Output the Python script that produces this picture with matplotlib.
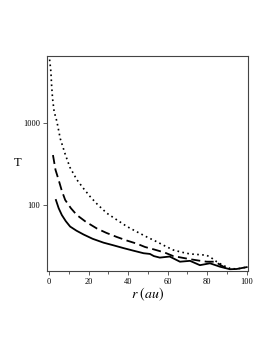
import matplotlib
matplotlib.use("Agg")
import matplotlib.pyplot as plt
from matplotlib.ticker import FixedLocator, NullLocator, FixedFormatter

plt.rcParams['font.family'] = ['Liberation Serif', 'DejaVu Serif']
plt.rcParams['mathtext.fontset'] = 'stix'

# dotted curve
r_dot = [0.2, 0.86, 1.2, 1.7, 2.5, 3.9, 5.6, 8.1, 10.5, 14, 17.4, 20.8,
         24.5, 29.2, 34, 39.4, 44, 49.5, 54.4, 58.5, 62.8, 67, 71.3, 76,
         79.7, 82.5, 84.8, 88, 91.5, 95, 100]
T_dot = [6000, 4250, 2950, 2000, 1390, 1050, 650, 420, 290, 205, 160, 127,
         102, 80, 67, 55, 48, 41, 36, 32, 28.5, 26.8, 25.5, 25,
         24.6, 22.5, 20.5, 18.5, 17, 16.7, 17.6]

# dashed curve
r_dash = [1.9, 3.2, 4.8, 6.4, 8.1, 11, 14, 18.5, 24.2, 29, 34.3, 39.5,
          44.4, 48.5, 52.9, 58.5, 62.8, 67, 71.3, 75.5, 79.7, 84, 87, 89.8]
T_dash = [410, 270, 203, 150, 116, 92, 76, 63, 52, 46, 41, 37,
          34, 31, 29, 26.5, 24, 23, 22, 21.2, 20.5, 20.5, 18.5, 17]

# solid curve
r_sol = [3.4, 4.8, 6.4, 8.4, 10.6, 13.8, 17.4, 22, 27.5, 32.5, 37.7, 42.5,
         47.8, 51, 53, 56, 61, 66.2, 71.3, 76.3, 81.4, 86.5, 91.5, 94.9, 100]
T_sol = [116, 92, 76, 64, 55, 49, 44, 39, 35, 32.5, 30, 28,
         26, 25.5, 24, 23, 23.7, 20.5, 21, 18.6, 19.6, 17.8, 16.6, 16.7, 17.6]

fig = plt.figure(figsize=(2.73, 3.53), dpi=100)
ax = fig.add_axes([0.173, 0.233, 0.735, 0.608])

ax.plot(r_dot, T_dot, color='black', lw=1.2, linestyle=(0, (1, 2)))
ax.plot(r_dash, T_dash, color='black', lw=1.3, linestyle=(0, (5, 2.5)))
ax.plot(r_sol, T_sol, color='black', lw=1.3)

ax.set_yscale('log')
ax.set_xlim(-1, 100.6)
ax.set_ylim(15.9, 6600)

ax.xaxis.set_major_locator(FixedLocator([0, 20, 40, 60, 80, 100]))
ax.xaxis.set_minor_locator(FixedLocator([10, 30, 50, 70, 90]))
ax.yaxis.set_major_locator(FixedLocator([100, 1000]))
ax.yaxis.set_major_formatter(FixedFormatter(['100', '1000']))
ax.yaxis.set_minor_locator(NullLocator())

ax.tick_params(axis='both', which='major', labelsize=6, length=3,
               width=0.6, color='#444444', pad=2)
ax.tick_params(axis='x', which='minor', length=2, width=0.6, color='#444444')

for s in ax.spines.values():
    s.set_color('#444444')
    s.set_linewidth(0.8)

ax.set_xlabel(r'$r\ (au)$', fontsize=10, labelpad=0)
ax.set_ylabel('T', fontsize=9, rotation=0, labelpad=4, va='center')

fig.savefig('out.png', dpi=100)
